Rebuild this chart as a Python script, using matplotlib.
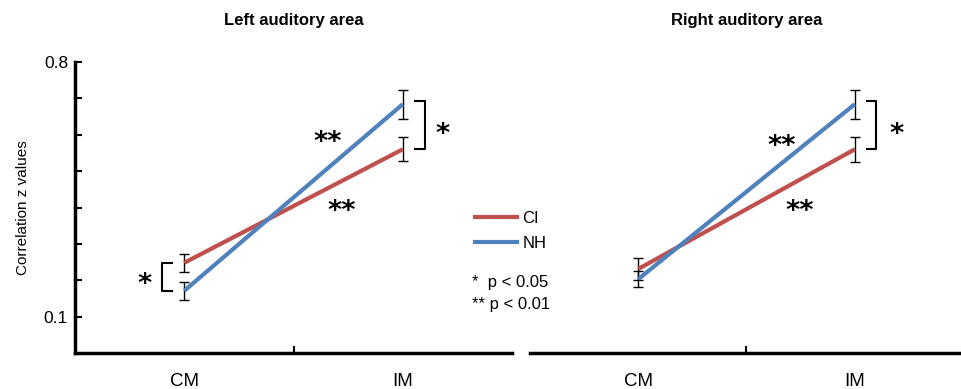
import numpy as np
import matplotlib
matplotlib.use('Agg')
import matplotlib.pyplot as plt
from matplotlib.lines import Line2D

plt.rc('font', family=['Liberation Sans', 'DejaVu Sans'])

conditions = ['CM', 'IM']
titles = ['Left auditory area', 'Right auditory area']

# means and error bars
ci_left = [0.248, 0.560]
ci_left_err = [0.025, 0.033]
nh_left = [0.171, 0.684]
nh_left_err = [0.024, 0.040]

ci_right = [0.231, 0.560]
ci_right_err = [0.030, 0.034]
nh_right = [0.203, 0.684]
nh_right_err = [0.022, 0.040]

# where the significance stars sit (data coords): upper **, lower **, single *
stars_left = [(1.658, 0.577), (1.722, 0.387), (2.18, 0.599)]
stars_right = [(1.664, 0.566), (1.747, 0.387), (2.195, 0.599)]

red = '#C0504D'
blue = '#4F81BD'
star_font = dict(family='DejaVu Sans', fontweight='bold', fontsize=19.5, ha='center', va='center')

fig = plt.figure(figsize=(9.61, 3.89), dpi=100)
ax1 = fig.add_axes([75/961, 1-353/389, 437/961, 291/389])
ax2 = fig.add_axes([530/961, 1-353/389, 433/961, 291/389])

x = np.array([1, 2])

for ax, ci, cie, nh, nhe, title, st in [(ax1, ci_left, ci_left_err, nh_left, nh_left_err, titles[0], stars_left),
                                        (ax2, ci_right, ci_right_err, nh_right, nh_right_err, titles[1], stars_right)]:
    ax.plot(x, ci, color=red, lw=3, solid_capstyle='butt', zorder=3)
    ax.plot(x, nh, color=blue, lw=3, solid_capstyle='butt', zorder=3)
    ax.errorbar(x, ci, yerr=cie, fmt='none', ecolor='black', elinewidth=1, capsize=3.5, capthick=1, zorder=2)
    ax.errorbar(x, nh, yerr=nhe, fmt='none', ecolor='black', elinewidth=1, capsize=3.5, capthick=1, zorder=2)
    ax.set_xlim(0.5, 2.5)
    ax.set_ylim(0, 0.8)
    ax.set_xticks([1.5])
    ax.set_xticklabels([])
    ax.tick_params(axis='x', direction='in', length=5, width=1.5)
    for xi, lab in zip(x, conditions):
        ax.text(xi, -0.079, lab, ha='center', va='center', fontsize=13.5, clip_on=False)
    ax.spines['top'].set_visible(False)
    ax.spines['right'].set_visible(False)
    ax.spines['bottom'].set_linewidth(2.5)
    ax.text(0.5, 1.141, title, transform=ax.transAxes, fontsize=12, fontweight='bold',
            ha='center', va='center')
    ax.patch.set_visible(False)

    # bracket at IM
    bx0, bx1 = 2.056, 2.10
    ax.plot([bx0, bx1, bx1, bx0], [nh[1] + 0.008, nh[1] + 0.008, ci[1], ci[1]], color='black', lw=1.5)
    ax.text(st[0][0], st[0][1], '**', **star_font)
    ax.text(st[1][0], st[1][1], '**', **star_font)
    ax.text(st[2][0], st[2][1], '*', **star_font)

# left panel y axis
ax1.set_yticks(np.arange(0.1, 0.81, 0.1))
ax1.set_yticklabels(['0.1', '', '', '', '', '', '', '0.8'], fontsize=12.5)
ax1.tick_params(axis='y', direction='in', length=5, width=1.5, pad=5)
ax1.spines['left'].set_linewidth(2.5)
ax1.set_ylabel('Correlation z values', fontsize=11, labelpad=10)

# CM bracket on left panel
ax1.plot([0.944, 0.898, 0.898, 0.944], [ci_left[0], ci_left[0], nh_left[0], nh_left[0]], color='black', lw=1.5)
ax1.text(0.82, 0.186, '*', **star_font)

ax2.spines['left'].set_visible(False)
ax2.set_yticks([])

handles = [Line2D([], [], color=red, lw=3), Line2D([], [], color=blue, lw=3)]
fig.legend(handles, ['CI', 'NH'], loc='upper left', bbox_to_anchor=(460/961, 1-196/389),
           frameon=False, fontsize=12, handlelength=2.5, handletextpad=0.35, labelspacing=0.6)
fig.text(472/961, 1-283/389, '*  p < 0.05', fontsize=12, va='center')
fig.text(472/961, 1-305/389, '** p < 0.01', fontsize=12, va='center')

fig.savefig('out.png', dpi=100)
